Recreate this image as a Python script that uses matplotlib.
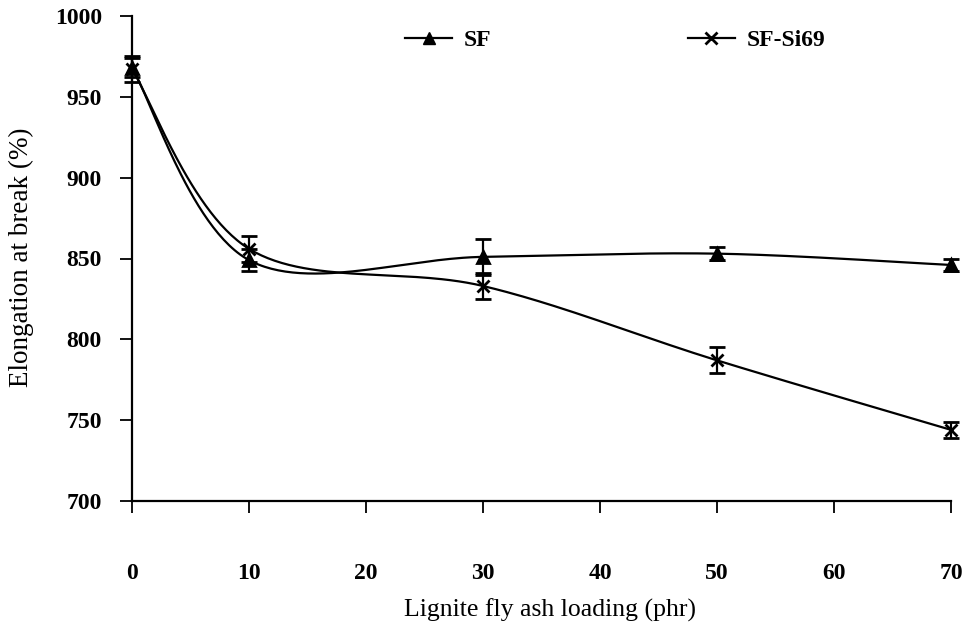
import numpy as np
import matplotlib
matplotlib.use("Agg")
import matplotlib.pyplot as plt
from matplotlib.lines import Line2D

loading = [0, 10, 30, 50, 70]
sf = [968, 849, 851, 853, 846]
sf_err = [6, 7, 11, 4, 4]
sfsi = [967, 856, 833, 787, 744]
sfsi_err = [8, 8, 8, 8, 5]
xticks = [0, 10, 20, 30, 40, 50, 60, 70]
yticks = [700, 750, 800, 850, 900, 950, 1000]

plt.rcParams['font.family'] = ['Liberation Serif', 'DejaVu Serif']


def smooth(x, y, n=60):
    x = np.asarray(x, float)
    y = np.asarray(y, float)
    P = np.column_stack([x, y])
    out = []
    m = len(P)
    for i in range(m - 1):
        p0 = P[i - 1] if i > 0 else P[i]
        p1 = P[i]
        p2 = P[i + 1]
        p3 = P[i + 2] if i + 2 < m else P[i + 1]
        c1 = p1 + (p2 - p0) / 6.0
        c2 = p2 - (p3 - p1) / 6.0
        t = np.linspace(0, 1, n)[:, None]
        seg = ((1 - t) ** 3) * p1 + 3 * ((1 - t) ** 2) * t * c1 + 3 * (1 - t) * t ** 2 * c2 + t ** 3 * p2
        out.append(seg if i == 0 else seg[1:])
    s = np.vstack(out)
    return s[:, 0], s[:, 1]


fig = plt.figure(figsize=(9.7, 6.37), dpi=100)
ax = fig.add_axes([132 / 970, 1 - 501 / 637, (951 - 132) / 970, (501 - 16) / 637])

for ys, err, mk, ms in [(sf, sf_err, '^', 8), (sfsi, sfsi_err, 'x', 9)]:
    sx, sy = smooth(loading, ys)
    ax.plot(sx, sy, color='black', lw=1.6)
    ax.errorbar(loading, ys, yerr=err, fmt=mk, color='black', ms=ms, mew=2,
                ecolor='black', elinewidth=1.6, capsize=5.5, capthick=1.6, clip_on=False)

ax.set_xlim(0, 70)
ax.set_ylim(700, 1000)
ax.set_xticks(xticks)
ax.set_yticks(yticks)
for s in ['top', 'right']:
    ax.spines[s].set_visible(False)
for s in ['left', 'bottom']:
    ax.spines[s].set_linewidth(1.6)
ax.tick_params(axis='x', direction='out', length=8.6, width=1.3, pad=36, labelsize=17)
ax.tick_params(axis='y', direction='out', length=8.6, width=1.3, pad=13, labelsize=17)
for lab in ax.get_xticklabels() + ax.get_yticklabels():
    lab.set_fontweight('bold')

fig.text(550 / 970, 1 - 610 / 637, 'Lignite fly ash loading (phr)', ha='center', va='center', fontsize=18.5)
fig.text(21 / 970, 1 - 257 / 637, 'Elongation at break (%)', ha='center', va='center', rotation=90, fontsize=19.5)

h1 = Line2D([], [], color='black', lw=1.6, marker='^', ms=8)
h2 = Line2D([], [], color='black', lw=1.6, marker='x', ms=9, mew=2)
fig.legend([h1, h2], ['SF', 'SF-Si69'], loc='center left', bbox_to_anchor=(405 / 970, 1 - 40 / 637),
           ncol=2, frameon=False, prop={'weight': 'bold', 'size': 17}, handlelength=2.0,
           handletextpad=0.5, columnspacing=8.3, borderpad=0, borderaxespad=0)

fig.savefig('out.png', dpi=100, facecolor='white')
